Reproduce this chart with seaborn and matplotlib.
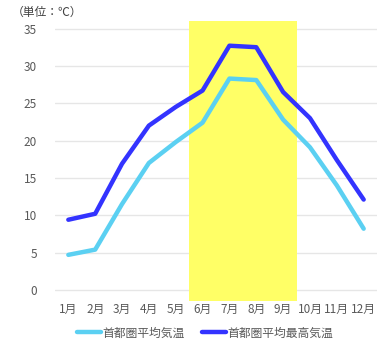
import pandas as pd
import matplotlib.pyplot as plt
import seaborn as sns

# Data
months = ['1月', '2月', '3月', '4月', '5月', '6月', '7月', '8月', '9月', '10月', '11月', '12月']
avg_temp = [4.7, 5.4, 11.5, 17.0, 19.8, 22.4, 28.3, 28.1, 22.8, 19.1, 14.0, 8.2]
max_temp = [9.4, 10.2, 16.9, 22.0, 24.5, 26.7, 32.7, 32.5, 26.5, 23.0, 17.4, 12.1]
series_names = ['首都圏平均気温', '首都圏平均最高気温']
summer_months = ['6月', '9月']

df = pd.DataFrame({
    'month': months * 2,
    'pos': list(range(len(months))) * 2,
    'temp': avg_temp + max_temp,
    'series': [series_names[0]] * len(months) + [series_names[1]] * len(months),
})

sns.set_style("white")
plt.rcParams['font.family'] = ['Noto Sans CJK JP', 'DejaVu Sans']

fig = plt.figure(figsize=(3.84, 3.51), dpi=100)
ax = fig.add_axes([0.143, 0.142, 0.839, 0.798])

# Highlighted summer band
i0 = months.index(summer_months[0])
i1 = months.index(summer_months[1])
ax.axvspan(i0 - 0.5, i1 + 0.5, ymin=0, ymax=1, color='#FFFF66', zorder=1, lw=0)

sns.lineplot(data=df, x='pos', y='temp', hue='series',
             palette=['#5BD0F2', '#3333FF'], linewidth=3.2, ax=ax, zorder=3)

ax.set_xlim(-0.5, len(months) - 0.5)
ax.set_ylim(-1.5, 36)
ax.set_xticks(range(len(months)))
ax.set_xticklabels(months)
ax.set_yticks(range(0, 36, 5))
ax.yaxis.grid(True, color='#E6E6E6', linewidth=1, zorder=0)
ax.set_axisbelow(True)
for s in ax.spines.values():
    s.set_visible(False)
ax.tick_params(axis='both', length=0, labelsize=8.5, colors='#595959')
ax.tick_params(axis='x', pad=1)
ax.tick_params(axis='y', pad=13)
ax.set_xlabel('')
ax.set_ylabel('')

fig.text(0.03, 0.965, '（単位：℃）', fontsize=8.5, color='#404040', va='center')

leg = ax.legend(loc='center', bbox_to_anchor=(0.534, 0.051),
                bbox_transform=fig.transFigure, ncol=2,
                frameon=False, fontsize=8.5, handlelength=2.0,
                columnspacing=1.5, handletextpad=0.1)
for t in leg.get_texts():
    t.set_color('#595959')

fig.savefig('out.png', dpi=100)
